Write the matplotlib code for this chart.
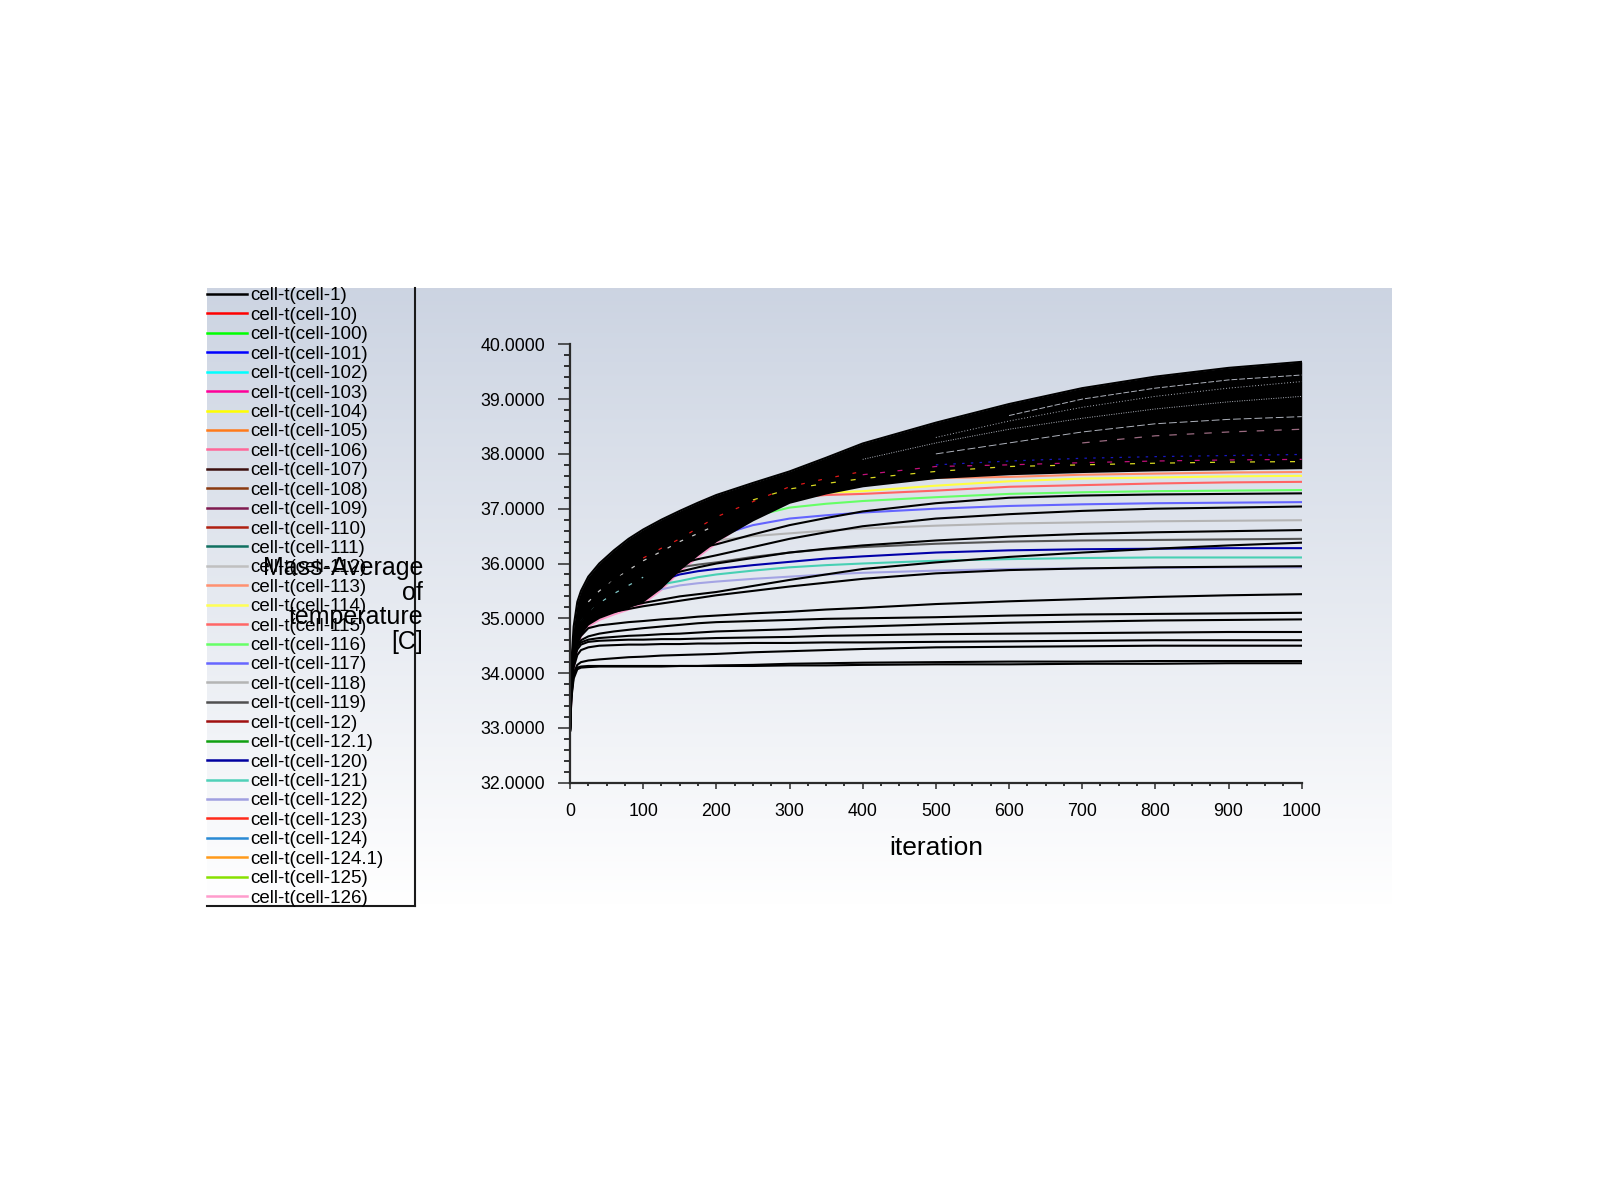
import numpy as np
import matplotlib
matplotlib.use("Agg")
import matplotlib.pyplot as plt
from matplotlib.lines import Line2D
from matplotlib.ticker import MultipleLocator, FormatStrFormatter

plt.rcParams['font.family'] = ['Liberation Sans', 'DejaVu Sans']

nan = float('nan')

# ---------------- data ----------------
ITERATIONS = [0, 2, 5, 10, 15, 25, 40, 60, 80, 100, 125, 150, 175, 200, 250, 300, 350, 400, 500, 600, 700, 800, 900, 1000]

# envelope of the dense bundle of black curves
BUNDLE_TOP = [32.95, 34.20, 34.85, 35.30, 35.50, 35.76, 36.00, 36.24, 36.45, 36.62, 36.80, 36.96, 37.11, 37.25, 37.47, 37.68, 37.93, 38.19, 38.57, 38.91, 39.20, 39.41, 39.57, 39.68]
BUNDLE_BOTTOM = [32.95, 33.60, 34.10, 34.50, 34.70, 34.88, 35.00, 35.10, 35.19, 35.30, 35.55, 35.88, 36.15, 36.40, 36.78, 37.10, 37.27, 37.40, 37.55, 37.62, 37.66, 37.69, 37.71, 37.73]

# separate black curves below the bundle
BLACK_1 = [32.95, 33.55, 33.90, 34.07, 34.10, 34.11, 34.12, 34.12, 34.12, 34.12, 34.12, 34.13, 34.13, 34.13, 34.13, 34.14, 34.14, 34.15, 34.16, 34.16, 34.17, 34.17, 34.18, 34.18]
BLACK_2 = [32.95, 33.60, 33.95, 34.10, 34.12, 34.13, 34.13, 34.13, 34.13, 34.13, 34.13, 34.13, 34.13, 34.14, 34.15, 34.17, 34.18, 34.19, 34.20, 34.21, 34.21, 34.22, 34.22, 34.22]
BLACK_3 = [32.95, 33.65, 34.00, 34.15, 34.20, 34.23, 34.25, 34.27, 34.29, 34.30, 34.32, 34.33, 34.34, 34.35, 34.38, 34.40, 34.42, 34.44, 34.47, 34.48, 34.49, 34.50, 34.50, 34.50]
BLACK_4 = [32.95, 33.70, 34.10, 34.33, 34.42, 34.47, 34.50, 34.51, 34.52, 34.52, 34.53, 34.53, 34.54, 34.54, 34.55, 34.55, 34.56, 34.56, 34.57, 34.58, 34.59, 34.60, 34.60, 34.60]
BLACK_5 = [32.95, 33.75, 34.20, 34.43, 34.52, 34.57, 34.59, 34.60, 34.61, 34.61, 34.62, 34.62, 34.63, 34.64, 34.65, 34.66, 34.68, 34.69, 34.71, 34.72, 34.73, 34.74, 34.75, 34.75]
BLACK_6 = [32.95, 33.80, 34.25, 34.48, 34.56, 34.61, 34.64, 34.66, 34.68, 34.69, 34.71, 34.72, 34.74, 34.76, 34.78, 34.80, 34.83, 34.85, 34.89, 34.92, 34.94, 34.96, 34.97, 34.98]
BLACK_7 = [32.95, 33.85, 34.30, 34.52, 34.60, 34.67, 34.72, 34.76, 34.79, 34.82, 34.85, 34.88, 34.91, 34.93, 34.95, 34.97, 34.99, 35.00, 35.02, 35.05, 35.07, 35.08, 35.09, 35.10]
BLACK_8 = [32.95, 33.90, 34.35, 34.56, 34.68, 34.82, 34.87, 34.90, 34.93, 34.95, 34.98, 35.00, 35.03, 35.05, 35.09, 35.12, 35.16, 35.19, 35.26, 35.31, 35.35, 35.39, 35.42, 35.44]
BLACK_9 = [32.95, 33.95, 34.40, 34.60, 34.75, 34.90, 35.05, 35.12, 35.17, 35.22, 35.27, 35.32, 35.37, 35.42, 35.50, 35.58, 35.65, 35.72, 35.82, 35.88, 35.91, 35.93, 35.94, 35.95]
BLACK_10 = [32.95, 34.00, 34.45, 34.65, 34.80, 34.94, 35.08, 35.16, 35.22, 35.28, 35.34, 35.40, 35.44, 35.48, 35.59, 35.70, 35.80, 35.90, 36.02, 36.12, 36.20, 36.27, 36.33, 36.38]
BLACK_11 = [32.95, 34.05, 34.50, 34.70, 34.85, 35.00, 35.18, 35.35, 35.48, 35.60, 35.73, 35.85, 35.93, 36.00, 36.10, 36.20, 36.27, 36.33, 36.42, 36.49, 36.54, 36.57, 36.59, 36.61]
BLACK_12 = [32.95, 34.10, 34.55, 34.75, 34.90, 35.05, 35.30, 35.55, 35.68, 35.80, 35.90, 36.00, 36.08, 36.15, 36.30, 36.45, 36.57, 36.68, 36.82, 36.90, 36.96, 37.00, 37.02, 37.04]
BLACK_13 = [32.95, 34.15, 34.60, 34.80, 34.95, 35.10, 35.40, 35.70, 35.83, 35.95, 36.08, 36.20, 36.28, 36.35, 36.53, 36.70, 36.83, 36.95, 37.10, 37.20, 37.24, 37.26, 37.27, 37.28]

# coloured curves (hidden where they run inside the black bundle)
CELL_113 = [32.95, 34.10, 34.60, 35.00, 35.20, 35.40, 35.60, 35.80, 36.00, 36.15, 36.35, 36.55, 36.72, 36.90, 37.10, 37.30, 37.38, 37.45, 37.56, 37.58, 37.62, 37.64, 37.66, 37.67]
CELL_114 = [32.95, 34.05, 34.55, 34.95, 35.15, 35.35, 35.55, 35.75, 35.95, 36.10, 36.30, 36.50, 36.67, 36.85, 37.05, 37.25, 37.29, 37.32, 37.42, 37.50, 37.55, 37.57, 37.59, 37.60]
CELL_115 = [32.95, 34.05, 34.55, 34.95, 35.15, 35.35, 35.55, 35.75, 35.95, 36.10, 36.30, 36.50, 36.65, 36.80, 37.00, 37.20, 37.25, 37.27, 37.33, 37.40, 37.43, 37.46, 37.48, 37.49]
CELL_116 = [32.95, 34.00, 34.50, 34.90, 35.10, 35.30, 35.50, 35.70, 35.90, 36.05, 36.25, 36.40, 36.55, 36.70, 36.86, 37.02, 37.09, 37.14, 37.21, 37.27, 37.30, 37.32, 37.33, 37.34]
CELL_117 = [32.95, 34.00, 34.45, 34.85, 35.05, 35.25, 35.45, 35.65, 35.80, 35.95, 36.10, 36.25, 36.38, 36.50, 36.70, 36.82, 36.88, 36.93, 37.00, 37.05, 37.08, 37.10, 37.11, 37.12]
CELL_118 = [32.95, 33.95, 34.40, 34.80, 35.00, 35.20, 35.40, 35.60, 35.75, 35.90, 36.05, 36.15, 36.25, 36.42, 36.50, 36.55, 36.60, 36.64, 36.69, 36.73, 36.75, 36.77, 36.78, 36.79]
CELL_119 = [32.95, 33.90, 34.35, 34.75, 34.95, 35.12, 35.30, 35.45, 35.55, 35.65, 35.80, 35.93, 35.98, 36.02, 36.12, 36.20, 36.26, 36.30, 36.36, 36.40, 36.42, 36.43, 36.44, 36.45]
CELL_120 = [32.95, 33.85, 34.30, 34.72, 34.92, 35.08, 35.25, 35.40, 35.50, 35.58, 35.70, 35.80, 35.86, 35.90, 35.97, 36.03, 36.09, 36.13, 36.20, 36.24, 36.26, 36.27, 36.28, 36.28]
CELL_121 = [32.95, 33.80, 34.25, 34.70, 34.90, 35.05, 35.20, 35.35, 35.45, 35.52, 35.62, 35.68, 35.75, 35.80, 35.87, 35.93, 35.97, 36.00, 36.05, 36.08, 36.10, 36.11, 36.11, 36.11]
CELL_122 = [32.95, 33.75, 34.20, 34.65, 34.85, 35.00, 35.10, 35.20, 35.30, 35.45, 35.53, 35.60, 35.64, 35.67, 35.72, 35.76, 35.80, 35.83, 35.87, 35.90, 35.91, 35.92, 35.93, 35.93]
CELL_126 = [32.95, 33.57, 34.07, 34.47, 34.67, 34.85, 34.97, 35.07, 35.16, 35.27, 35.52, 35.85, 36.12, 36.37, 36.85, 37.20, 37.38, 37.50, 37.70, 37.80, 37.86, 37.90, 37.93, 37.95]

# coloured traces only glimpsed between the black curves of the bundle
TRACE_10 = [nan, nan, nan, nan, nan, nan, nan, nan, nan, 36.10, 36.28, 36.45, 36.65, 36.85, 37.13, 37.40, 37.55, 37.68, nan, nan, nan, nan, nan, nan]
TRACE_101 = [nan, nan, nan, nan, nan, nan, nan, nan, nan, nan, nan, nan, nan, nan, nan, nan, nan, nan, 37.80, 37.87, 37.92, 37.95, 37.97, 37.99]
TRACE_103 = [nan, nan, nan, nan, nan, nan, nan, nan, nan, nan, nan, nan, nan, nan, nan, nan, nan, 37.62, 37.77, 37.80, 37.84, 37.87, 37.89, 37.90]
TRACE_104 = [nan, nan, nan, nan, nan, nan, nan, nan, nan, nan, nan, nan, nan, nan, 37.16, 37.36, 37.46, 37.55, 37.68, 37.77, 37.80, 37.83, 37.85, 37.86]
TRACE_109 = [nan, nan, nan, nan, nan, nan, nan, nan, nan, nan, nan, nan, nan, nan, nan, nan, nan, nan, nan, nan, 38.20, 38.33, 38.40, 38.45]
TRACE_102 = [nan, nan, nan, nan, 34.95, 35.10, 35.28, 35.45, 35.60, 35.75, nan, nan, nan, nan, nan, nan, nan, nan, nan, nan, nan, nan, nan, nan]
TRACE_111 = [nan, nan, nan, nan, nan, 35.30, 35.50, 35.70, 35.88, 36.05, 36.22, 36.40, 36.55, 36.70, nan, nan, nan, nan, nan, nan, nan, nan, nan, nan]
# light-grey curves showing as thin gaps in the upper part of the bundle
TRACE_112 = [nan, nan, nan, nan, nan, nan, nan, nan, nan, nan, nan, nan, nan, nan, nan, nan, nan, nan, 38.30, 38.60, 38.85, 39.05, 39.20, 39.32]
TRACE_107 = [nan, nan, nan, nan, nan, nan, nan, nan, nan, nan, nan, nan, nan, nan, nan, nan, nan, 37.90, 38.20, 38.45, 38.65, 38.82, 38.95, 39.05]
TRACE_108 = [nan, nan, nan, nan, nan, nan, nan, nan, nan, nan, nan, nan, nan, nan, nan, nan, nan, nan, nan, 38.70, 39.00, 39.20, 39.35, 39.44]
TRACE_105 = [nan, nan, nan, nan, nan, nan, nan, nan, nan, nan, nan, nan, nan, nan, nan, nan, nan, nan, 38.00, 38.20, 38.40, 38.55, 38.63, 38.68]

X_TICKS = [0, 100, 200, 300, 400, 500, 600, 700, 800, 900, 1000]
Y_TICKS = [32, 33, 34, 35, 36, 37, 38, 39, 40]

LEGEND_LABELS = [
    'cell-t(cell-1)', 'cell-t(cell-10)', 'cell-t(cell-100)', 'cell-t(cell-101)',
    'cell-t(cell-102)', 'cell-t(cell-103)', 'cell-t(cell-104)', 'cell-t(cell-105)',
    'cell-t(cell-106)', 'cell-t(cell-107)', 'cell-t(cell-108)', 'cell-t(cell-109)',
    'cell-t(cell-110)', 'cell-t(cell-111)', 'cell-t(cell-112)', 'cell-t(cell-113)',
    'cell-t(cell-114)', 'cell-t(cell-115)', 'cell-t(cell-116)', 'cell-t(cell-117)',
    'cell-t(cell-118)', 'cell-t(cell-119)', 'cell-t(cell-12)', 'cell-t(cell-12.1)',
    'cell-t(cell-120)', 'cell-t(cell-121)', 'cell-t(cell-122)', 'cell-t(cell-123)',
    'cell-t(cell-124)', 'cell-t(cell-124.1)', 'cell-t(cell-125)', 'cell-t(cell-126)',
]
LEGEND_COLORS = [
    '#000000', '#ff0000', '#00ff00', '#0000ff',
    '#00ffff', '#ff0099', '#ffff00', '#ff7a1a',
    '#ff6699', '#3c0f0f', '#8a3a10', '#7f1a50',
    '#b02010', '#107060', '#c0c0c0', '#ff9070',
    '#ffff55', '#ff6666', '#66ff66', '#6666ff',
    '#b4b4b4', '#505050', '#a01010', '#10a010',
    '#0000a0', '#50d0b8', '#a0a0e0', '#ff2a1a',
    '#2a8ad4', '#ff9a1a', '#88e000', '#ff9ccc',
]

# ---------------- figure ----------------
W, H = 1600, 1200
fig = plt.figure(figsize=(16, 12), dpi=100)
fig.patch.set_facecolor('white')


def fx(px):
    return px / W


def fy(py):
    return 1 - py / H


# gradient background panel
bg = fig.add_axes([fx(207), fy(905), fx(1392) - fx(207), fy(288) - fy(905)], zorder=0)
top_col = np.array([0.800, 0.831, 0.886])
g = np.linspace(0, 1, 256)[:, None, None]
img = top_col[None, None, :] * (1 - g) + g * np.ones((1, 1, 3))
bg.imshow(img, aspect='auto', extent=[0, 1, 0, 1], origin='upper')
bg.set_axis_off()

# main plot axes
ax = fig.add_axes([fx(570), fy(782.7), fx(1301.7) - fx(570), fy(344.3) - fy(782.7)], zorder=2)
ax.set_facecolor('none')
ax.set_xlim(0, 1000)
ax.set_ylim(32, 40)

LW = 1.5
# coloured curves first (hidden under the bundle where they run inside it)
colored = [
    (CELL_126, '#ff9ccc'), (CELL_113, '#ff8a66'), (CELL_114, '#ffff40'), (CELL_115, '#ff6464'),
    (CELL_116, '#66ff66'), (CELL_117, '#6464ff'), (CELL_118, '#b4b4b4'), (CELL_119, '#555555'),
    (CELL_120, '#0000a8'), (CELL_121, '#48d0b4'), (CELL_122, '#a4a4e4'),
]
for ys, c in colored:
    ax.plot(ITERATIONS, ys, color=c, lw=LW, zorder=1.5, solid_joinstyle='round')

# the dense bundle of black curves
ax.fill_between(ITERATIONS, BUNDLE_BOTTOM, BUNDLE_TOP, color='black', lw=0, zorder=2)
ax.plot(ITERATIONS, BUNDLE_TOP, color='black', lw=LW, zorder=2)

# glimpses of coloured traces between the bundle curves
traces = [
    (TRACE_10, '#e01818', (0, (3, 11))), (TRACE_101, '#1818c0', (0, (2, 5))),
    (TRACE_103, '#c0107a', (0, (4, 10))), (TRACE_104, '#d8d820', (0, (4, 12))),
    (TRACE_109, '#9a6a80', (0, (6, 8))), (TRACE_102, '#80c8c8', (0, (3, 9))),
    (TRACE_111, '#c8c8c8', (0, (3, 8))),
]
for ys, c, ls in traces:
    ax.plot(ITERATIONS, ys, color=c, lw=0.9, ls=ls, zorder=2.5)

gaps = [(TRACE_112, (0, (1, 2))), (TRACE_107, (0, (1, 1.5))),
        (TRACE_108, (0, (6, 2))), (TRACE_105, (0, (8, 3)))]
for ys, ls in gaps:
    ax.plot(ITERATIONS, ys, color='#aeb2bc', lw=0.7, ls=ls, zorder=2.5)

# separate black curves
for ys in [BLACK_1, BLACK_2, BLACK_3, BLACK_4, BLACK_5, BLACK_6, BLACK_7, BLACK_8,
           BLACK_9, BLACK_10, BLACK_11, BLACK_12, BLACK_13]:
    ax.plot(ITERATIONS, ys, color='black', lw=LW, zorder=3, solid_joinstyle='round')

# axes styling
for s in ['top', 'right']:
    ax.spines[s].set_visible(False)
for s in ['left', 'bottom']:
    ax.spines[s].set_color('#2b2b2b')
    ax.spines[s].set_linewidth(1.6)
    ax.spines[s].set_zorder(4)

ax.set_xticks(X_TICKS)
ax.set_yticks(Y_TICKS)
ax.xaxis.set_minor_locator(MultipleLocator(25))
ax.yaxis.set_minor_locator(MultipleLocator(0.2))
ax.yaxis.set_major_formatter(FormatStrFormatter('%.4f'))
ax.tick_params(axis='both', colors='#2b2b2b', labelcolor='black', labelsize=12.8)
ax.tick_params(axis='y', which='major', length=8.9, width=1.1, pad=9.0)
ax.tick_params(axis='y', which='minor', length=4.1, width=1.1)
ax.tick_params(axis='x', which='major', length=4.2, width=1.1, pad=10.2)
ax.tick_params(axis='x', which='minor', length=2.2, width=1.1)

ax.set_xlabel('iteration', fontsize=19)
ax.xaxis.label.set_va('center')
ax.xaxis.set_label_coords(0.5, (782.7 - 848) / 438.4)

fig.text(fx(423), fy(605), 'Mass-Average\nof\ntemperature\n[C]', ha='right', va='center',
         multialignment='right', fontsize=18, linespacing=1.05, zorder=6)

# legend (drawn on the panel, left of the plot)
row0, drow = 294.0, 19.42
for k, (lab, col) in enumerate(zip(LEGEND_LABELS, LEGEND_COLORS)):
    yl = row0 + k * drow
    fig.add_artist(Line2D([fx(207), fx(247)], [fy(yl), fy(yl)], color=col, lw=1.8, zorder=5))
    fig.text(fx(250.5), fy(yl + 2), lab, ha='left', va='center', fontsize=13.5, zorder=5)
fig.add_artist(Line2D([fx(415), fx(415)], [fy(288), fy(906)], color='#1a1a1a', lw=1.5, zorder=5))
fig.add_artist(Line2D([fx(207), fx(415)], [fy(906), fy(906)], color='#1a1a1a', lw=1.5, zorder=5))

fig.savefig('out.png', dpi=100, facecolor='white')
